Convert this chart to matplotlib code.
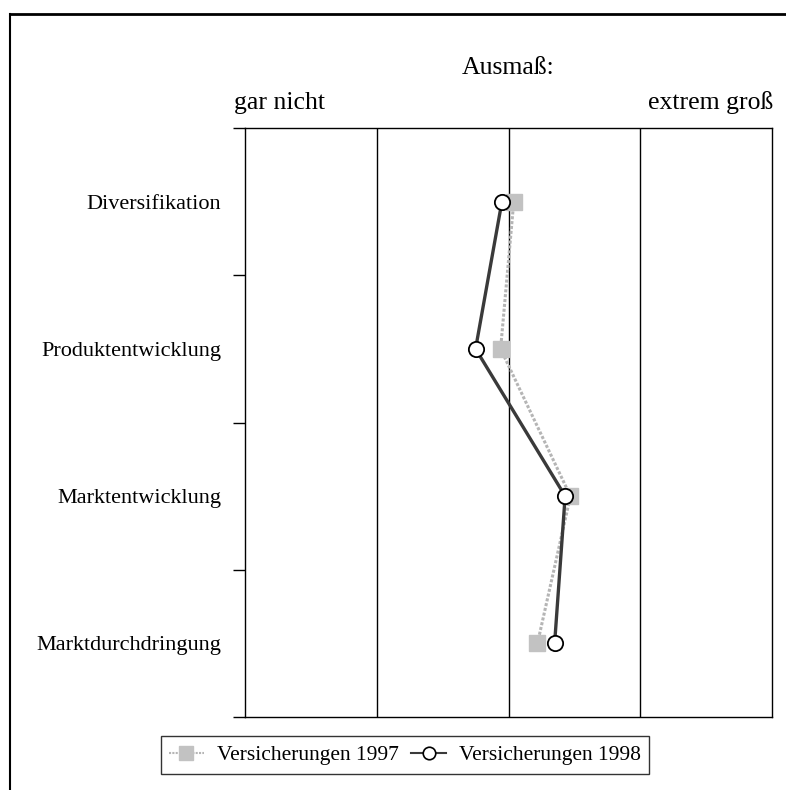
import matplotlib
matplotlib.use("Agg")
import matplotlib.pyplot as plt
from matplotlib.lines import Line2D

plt.rcParams['font.family'] = ['Liberation Serif', 'DejaVu Serif']

categories = ["Diversifikation", "Produktentwicklung", "Marktentwicklung", "Marktdurchdringung"]
values_1997 = [2.04, 1.94, 2.47, 2.22]
values_1998 = [1.95, 1.75, 2.43, 2.35]
series_labels = ["Versicherungen 1997", "Versicherungen 1998"]

W, H = 786, 790
fig = plt.figure(figsize=(W / 100, H / 100), dpi=100)
ax = fig.add_axes([245 / W, 1 - 717 / H, (772 - 245) / W, (717 - 128) / H])

ypos = list(range(1, len(categories) + 1))
ax.set_xlim(0, 4)
ax.set_ylim(len(categories) + 0.5, 0.5)

for x in [1, 2, 3]:
    ax.axvline(x, color='black', lw=1.0, zorder=1)
for s in ax.spines.values():
    s.set_linewidth(1.0)

ax.set_xticks([])
ax.set_yticks([i + 0.5 for i in range(len(categories) + 1)])
ax.set_yticklabels([])
ax.tick_params(axis='y', which='major', length=9, width=1.0, direction='out')
ax.set_yticks(ypos, minor=True)
ax.set_yticklabels(categories, minor=True, fontsize=16)
ax.tick_params(axis='y', which='minor', length=0, pad=17)

ax.plot(values_1997, ypos, color='#b5b5b5', lw=2.2, linestyle=(0, (1, 0.6)),
        marker='s', markersize=12, markerfacecolor='#c2c2c2', markeredgecolor='#c2c2c2',
        zorder=3, label=series_labels[0])
ax.plot(values_1998, ypos, color='#3a3a3a', lw=2.4,
        marker='o', markersize=11, markerfacecolor='white', markeredgecolor='black',
        markeredgewidth=1.3, zorder=4, label=series_labels[1])

fig.text(508 / W, 1 - 74 / H, "Ausmaß:", ha='center', va='baseline', fontsize=18.5)
fig.text(234 / W, 1 - 109 / H, "gar nicht", ha='left', va='baseline', fontsize=18.5)
fig.text(773 / W, 1 - 109 / H, "extrem groß", ha='right', va='baseline', fontsize=18.5)

# outer frame (top and left)
fig.add_artist(Line2D([10 / W, 1], [1 - 13.5 / H, 1 - 13.5 / H], color='black', lw=2, transform=fig.transFigure))
fig.add_artist(Line2D([10 / W, 10 / W], [0, 1 - 13.5 / H], color='black', lw=1.5, transform=fig.transFigure))

h1 = Line2D([], [], color='#b5b5b5', lw=1.5, linestyle=(0, (1, 0.6)), marker='s', markersize=10,
            markerfacecolor='#c2c2c2', markeredgecolor='#c2c2c2')
h2 = Line2D([], [], color='#3a3a3a', lw=1.5, marker='o', markersize=9,
            markerfacecolor='white', markeredgecolor='black', markeredgewidth=1.2)
leg = fig.legend([h1, h2], series_labels, loc='center', bbox_to_anchor=(405 / W, 1 - 755 / H),
                 ncol=2, fontsize=15.5, frameon=True, fancybox=False, handlelength=1.6,
                 handletextpad=0.6, columnspacing=0.6, borderpad=0.4, borderaxespad=0)
leg.get_frame().set_edgecolor('black')
leg.get_frame().set_linewidth(1.0)

fig.savefig("out.png", dpi=100)
